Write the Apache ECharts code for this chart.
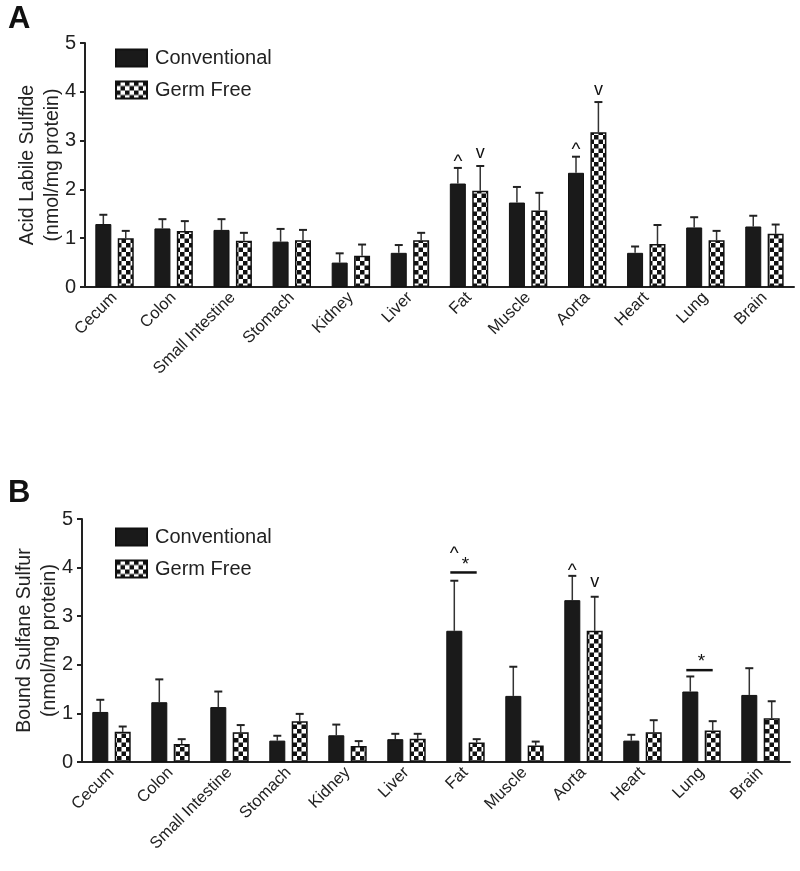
<!DOCTYPE html>
<html>
<head>
<meta charset="utf-8">
<script src="https://cdn.jsdelivr.net/npm/echarts@6/dist/echarts.min.js"></script>
<style>
  html, body { margin: 0; padding: 0; background: #fff; }
  #main { width: 800px; height: 871px; }
</style>
</head>
<body>
<div id="main"></div>
<script>
// tissues on the x axis (shared by both panels)
const tissues = ['Cecum', 'Colon', 'Small Intestine', 'Stomach', 'Kidney', 'Liver',
  'Fat', 'Muscle', 'Aorta', 'Heart', 'Lung', 'Brain'];
const yTicks = [0, 1, 2, 3, 4, 5];

// panel A - acid labile sulfide (mean, SEM)
const aConv = [1.29, 1.20, 1.17, 0.93, 0.50, 0.70, 2.12, 1.73, 2.34, 0.70, 1.22, 1.24];
const aConvErr = [0.19, 0.19, 0.22, 0.26, 0.19, 0.16, 0.32, 0.32, 0.33, 0.13, 0.21, 0.22];
const aGF = [1.00, 1.15, 0.95, 0.96, 0.64, 0.96, 1.97, 1.57, 3.17, 0.88, 0.96, 1.09];
const aGFErr = [0.15, 0.20, 0.16, 0.21, 0.23, 0.15, 0.51, 0.36, 0.62, 0.39, 0.19, 0.19];

// panel B - bound sulfane sulfur (mean, SEM)
const bConv = [1.03, 1.23, 1.13, 0.44, 0.55, 0.47, 2.70, 1.36, 3.33, 0.44, 1.45, 1.38];
const bConvErr = [0.25, 0.47, 0.32, 0.10, 0.22, 0.11, 1.03, 0.60, 0.50, 0.12, 0.31, 0.55];
const bGF = [0.62, 0.37, 0.61, 0.84, 0.33, 0.48, 0.40, 0.34, 2.70, 0.61, 0.65, 0.90];
const bGFErr = [0.11, 0.10, 0.15, 0.15, 0.10, 0.10, 0.07, 0.08, 0.70, 0.25, 0.19, 0.35];

// significance marks: [tissue index, group (0 conv / 1 germ free), y, symbol]
const aMarks = [[6, 0, 2.64, '^'], [6, 1, 2.75, 'v'], [8, 0, 2.89, '^'], [8, 1, 4.04, 'v']];
const bMarks = [[6, 0, 4.36, '^'], [8, 0, 4.02, '^'], [8, 1, 3.70, 'v'],
  [6, 0.5, 4.05, '*'], [10, 0.5, 2.06, '*']];
// bracket lines between the two bars: [tissue index, y]
const bLines = [[6, 3.90], [10, 1.89]];

const FONT = '"Liberation Sans", Arial, sans-serif';
const BAR_W = 16;
const BAR_GAP = 0.4;
const HALF = (BAR_W + BAR_W * BAR_GAP) / 2;

// checkerboard fill for the germ free bars
function checker() {
  const c = document.createElement('canvas');
  c.width = 9; c.height = 9;
  const ctx = c.getContext('2d');
  ctx.fillStyle = '#fff';
  ctx.fillRect(0, 0, 9, 9);
  ctx.fillStyle = '#111';
  ctx.fillRect(0, 0, 4.5, 4.5);
  ctx.fillRect(4.5, 4.5, 4.5, 4.5);
  return c;
}
const pattern = { image: checker(), repeat: 'repeat' };

const chart = echarts.init(document.getElementById('main'));

function groupX(api, idx, grp) {
  return api.coord([idx, 0])[0] + (grp - 0.5) * 2 * HALF;
}

function errorSeries(gi, means, errs, grp) {
  return {
    type: 'custom',
    xAxisIndex: gi, yAxisIndex: gi, z: 1,
    data: means.map((m, i) => [i, m, m + errs[i]]),
    renderItem(params, api) {
      const x = groupX(api, api.value(0), grp);
      const y0 = api.coord([api.value(0), api.value(1)])[1];
      const y1 = api.coord([api.value(0), api.value(2)])[1];
      const st = { stroke: '#333', lineWidth: 1.5 };
      return {
        type: 'group',
        children: [
          { type: 'line', shape: { x1: x, y1: y0, x2: x, y2: y1 }, style: st },
          { type: 'line', shape: { x1: x - 4, y1: y1, x2: x + 4, y2: y1 }, style: { stroke: '#222', lineWidth: 2 } }
        ]
      };
    }
  };
}

function markSeries(gi, marks, lines) {
  const data = marks.map(m => [m[0], m[2], m[1], m[3]]);
  return [{
    type: 'custom',
    xAxisIndex: gi, yAxisIndex: gi, z: 5,
    data: data,
    renderItem(params, api) {
      const idx = api.value(0);
      const x = groupX(api, idx, api.value(2));
      const y = api.coord([idx, api.value(1)])[1];
      const sym = data[params.dataIndex][3];
      return {
        type: 'text',
        style: {
          text: sym, x: x, y: sym === '^' ? y + 4 : y,
          align: 'center', verticalAlign: 'middle',
          font: (sym === 'v' ? 'normal 18px ' : 'normal 19px ') + FONT, fill: '#111'
        }
      };
    }
  }, {
    type: 'custom',
    xAxisIndex: gi, yAxisIndex: gi, z: 5,
    data: lines,
    renderItem(params, api) {
      const idx = api.value(0);
      const y = api.coord([idx, api.value(1)])[1];
      return {
        type: 'line',
        shape: { x1: groupX(api, idx, 0) - 4, y1: y, x2: groupX(api, idx, 1), y2: y },
        style: { stroke: '#111', lineWidth: 2.5 }
      };
    }
  }];
}

function xAxis(gi) {
  return {
    type: 'category', gridIndex: gi, data: tissues,
    axisLine: { lineStyle: { color: '#222', width: 2 } },
    axisTick: { alignWithLabel: true, length: 5, lineStyle: { color: '#222', width: 2 } },
    axisLabel: { rotate: 45, interval: 0, fontSize: 16.5, fontFamily: FONT, color: '#222', margin: 8 }
  };
}

function yAxis(gi, name) {
  return {
    type: 'value', gridIndex: gi, min: yTicks[0], max: yTicks[yTicks.length - 1], interval: 1,
    name: name, nameLocation: 'middle', nameGap: 20, nameMoveOverlap: false,
    nameTextStyle: { fontSize: 19.5, fontFamily: FONT, color: '#222', lineHeight: 25 },
    splitLine: { show: false },
    axisLine: { show: true, lineStyle: { color: '#222', width: 2 } },
    axisTick: { show: true, length: 5, lineStyle: { color: '#222', width: 2 } },
    axisLabel: { fontSize: 20, fontFamily: FONT, color: '#222', margin: 9 }
  };
}

function barSeries(gi, name, values, gf) {
  return {
    type: 'bar', name: name, xAxisIndex: gi, yAxisIndex: gi,
    data: values, barWidth: BAR_W, barGap: (BAR_GAP * 100) + '%', z: 2,
    itemStyle: gf
      ? { color: pattern, borderColor: '#111', borderWidth: 1.5 }
      : { color: '#1a1a1a', borderColor: '#111', borderWidth: 1 }
  };
}

function legend(top) {
  return {
    orient: 'vertical', left: 110, top: top,
    data: ['Conventional', 'Germ Free'],
    icon: 'rect', itemWidth: 31, itemHeight: 17, itemGap: 12,
    selectedMode: false,
    textStyle: { fontSize: 20, fontFamily: FONT, color: '#222', padding: [0, 0, 0, 3] }
  };
}

chart.setOption({
  animation: false,
  backgroundColor: '#fff',
  graphic: [
    { type: 'text', left: 8, top: 4, style: { text: 'A', font: 'bold 31px ' + FONT, fill: '#111' } },
    { type: 'text', left: 8, top: 478, style: { text: 'B', font: 'bold 31px ' + FONT, fill: '#111' } }
  ],
  legend: [legend(43), legend(522)],
  grid: [
    { left: 85, top: 43, width: 709, height: 244, outerBoundsMode: 'none', containLabel: false },
    { left: 82, top: 519, width: 708, height: 243, outerBoundsMode: 'none', containLabel: false }
  ],
  xAxis: [xAxis(0), xAxis(1)],
  yAxis: [
    yAxis(0, 'Acid Labile Sulfide\n(nmol/mg protein)'),
    yAxis(1, 'Bound Sulfane Sulfur\n(nmol/mg protein)')
  ],
  series: [
    barSeries(0, 'Conventional', aConv, false),
    barSeries(0, 'Germ Free', aGF, true),
    errorSeries(0, aConv, aConvErr, 0),
    errorSeries(0, aGF, aGFErr, 1),
    barSeries(1, 'Conventional', bConv, false),
    barSeries(1, 'Germ Free', bGF, true),
    errorSeries(1, bConv, bConvErr, 0),
    errorSeries(1, bGF, bGFErr, 1),
    ...markSeries(0, aMarks, []),
    ...markSeries(1, bMarks, bLines)
  ]
});
</script>
</body>
</html>
